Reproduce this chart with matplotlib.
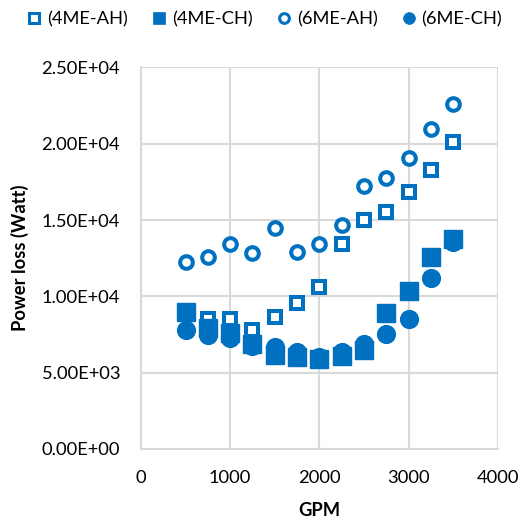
import matplotlib
matplotlib.use('Agg')
import matplotlib.pyplot as plt
from matplotlib.lines import Line2D
from matplotlib.ticker import FuncFormatter

plt.rcParams['font.family'] = ['Lato', 'DejaVu Sans']

# Caudal (GPM) y pérdidas de potencia (W) para cada configuración
gpm = [500, 750, 1000, 1250, 1500, 1750, 2000, 2250, 2500, 2750, 3000, 3250, 3500]
ah_4me = [8950, 8500, 8490, 7830, 8630, 9570, 10640, 13410, 15000, 15550, 16820, 18280, 20100]
ch_4me = [8980, 7930, 7600, 6850, 6180, 6030, 5920, 6080, 6500, 8890, 10340, 12570, 13730]
ah_6me = [12280, 12600, 13410, 12870, 14500, 12930, 13410, 14680, 17230, 17740, 19050, 20970, 22590]
ch_6me = [7830, 7480, 7270, 6750, 6670, 6340, 6020, 6340, 6850, 7540, 8490, 11220, 13560]
series = ['(4ME-AH)', '(4ME-CH)', '(6ME-AH)', '(6ME-CH)']

azul = '#0070C0'
gris = '#D9D9D9'
fs = 13.2

fig = plt.figure(figsize=(5.19, 5.23), dpi=100)
ax = fig.add_axes([0.2717, 0.1415, 0.959 - 0.2717, 0.871 - 0.1415])

ax.plot(gpm, ah_4me, ls='none', marker='s', ms=8.6, mew=2.9, mec=azul, mfc='white', zorder=3)
ax.plot(gpm, ch_4me, ls='none', marker='s', ms=12.5, mew=1, mec=azul, mfc=azul, zorder=4)
ax.plot(gpm, ah_6me, ls='none', marker='o', ms=9.1, mew=2.9, mec=azul, mfc='white', zorder=5)
ax.plot(gpm, ch_6me, ls='none', marker='o', ms=12.8, mew=1, mec=azul, mfc=azul, zorder=6)

ax.set_xlim(0, 4000)
ax.set_ylim(0, 25000)
ax.set_xticks([0, 1000, 2000, 3000, 4000])
ax.set_yticks([0, 5000, 10000, 15000, 20000, 25000])
ax.yaxis.set_major_formatter(FuncFormatter(lambda v, p: ('%.2E' % v)))

ax.grid(True, color=gris, lw=1.5, zorder=0)
ax.set_axisbelow(True)
for lado in ['top', 'right']:
    ax.spines[lado].set_visible(False)
for lado in ['left', 'bottom']:
    ax.spines[lado].set_color(gris)
    ax.spines[lado].set_linewidth(1.5)
ax.tick_params(length=0, labelsize=fs, colors='#000000')
ax.tick_params(axis='y', pad=15)
ax.tick_params(axis='x', pad=15)

ax.set_xlabel('GPM', fontsize=fs, fontweight='bold', labelpad=12)
ax.set_ylabel('Power loss (Watt)', fontsize=fs, fontweight='bold', labelpad=9)

# marcadores de la leyenda (más pequeños que en la gráfica)
handles = [
    Line2D([], [], ls='none', marker='s', ms=7, mew=2.2, mec=azul, mfc='white'),
    Line2D([], [], ls='none', marker='s', ms=8.5, mew=0.5, mec=azul, mfc=azul),
    Line2D([], [], ls='none', marker='o', ms=7, mew=2.2, mec=azul, mfc='white'),
    Line2D([], [], ls='none', marker='o', ms=8.5, mew=0.5, mec=azul, mfc=azul),
]
fig.legend(handles, series, loc='upper center', bbox_to_anchor=(0.508, 1.0), ncol=4,
           frameon=False, fontsize=fs, handletextpad=0.2, columnspacing=1.2,
           handlelength=1.0, borderaxespad=0.2)

fig.savefig('out.png', dpi=100)
